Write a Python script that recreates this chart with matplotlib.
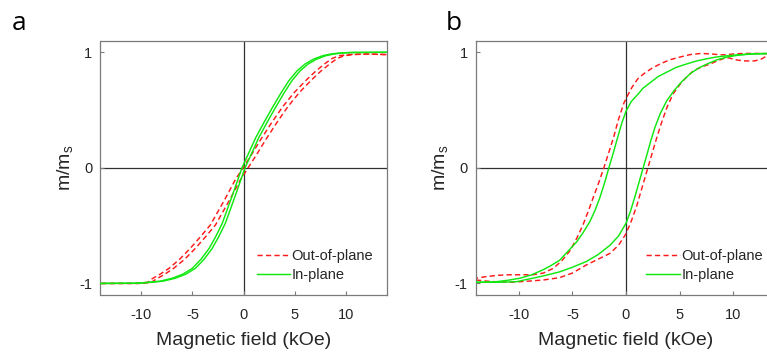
import matplotlib
matplotlib.use("Agg")
import matplotlib.pyplot as plt

plt.rcParams['font.family'] = ['Liberation Sans', 'DejaVu Sans']
plt.rcParams['mathtext.fontset'] = 'custom'
plt.rcParams['mathtext.rm'] = 'Liberation Sans'
plt.rcParams['mathtext.it'] = 'Liberation Sans'
plt.rcParams['axes.unicode_minus'] = False

# ---------------- data (panel a) ----------------
# in-plane (green), ascending branch
a_ip_up_H = [-14, -10.35, -8.95, -7.85, -6.68, -5.65, -4.72, -3.85, -3.09, -2.45, -1.78, -0.8, 0.15,
             1.49, 2.35, 3.12, 3.95, 4.75, 5.55, 6.35, 7.15, 8.05, 8.85, 9.65, 10.65, 14]
a_ip_up_m = [-1, -0.998, -0.99, -0.98, -0.955, -0.92, -0.87, -0.79, -0.70, -0.60, -0.48, -0.24, 0,
             0.26, 0.40, 0.52, 0.645, 0.755, 0.84, 0.90, 0.94, 0.97, 0.985, 0.993, 0.998, 1]
# in-plane (green), descending branch
a_ip_dn_H = [14, 10.35, 9.35, 8.55, 7.75, 6.85, 6.05, 5.25, 4.45, 3.65, 2.82, 2.05, 1.19, -0.15,
             -1.1, -2.08, -2.75, -3.39, -4.15, -5.02, -5.95, -6.98, -8.15, -9.25, -10.65, -14]
a_ip_dn_m = [1, 0.998, 0.993, 0.985, 0.97, 0.94, 0.90, 0.84, 0.755, 0.645, 0.52, 0.40, 0.26, 0,
             -0.24, -0.48, -0.60, -0.70, -0.79, -0.87, -0.92, -0.955, -0.98, -0.99, -0.998, -1]
# out-of-plane (red), ascending branch
a_oop_up_H = [-14, -10, -9.0, -8.6, -7.8, -6.85, -5.75, -4.75, -3.75, -2.75, -1.95, -1.25, -0.35, 0.45,
              1.25, 2.15, 3.25, 4.35, 5.45, 6.65, 7.55, 8.45, 9.15, 9.85, 10.75, 12.25, 14]
a_oop_up_m = [-1, -1, -0.99, -0.965, -0.925, -0.87, -0.79, -0.70, -0.60, -0.495, -0.37, -0.26, -0.11, 0,
              0.11, 0.24, 0.39, 0.53, 0.65, 0.76, 0.835, 0.90, 0.945, 0.97, 0.98, 0.985, 0.98]
# out-of-plane (red), descending branch
a_oop_dn_H = [14, 11.75, 10.25, 9.35, 8.65, 7.95, 7.05, 6.15, 4.95, 3.85, 2.75, 1.65, 0.75, -0.05,
              -0.85, -1.75, -2.45, -3.25, -4.25, -5.25, -6.25, -7.3, -8.25, -9.05, -9.35, -10.5, -14]
a_oop_dn_m = [0.98, 0.985, 0.98, 0.97, 0.945, 0.90, 0.835, 0.76, 0.65, 0.53, 0.39, 0.24, 0.11, 0,
              -0.11, -0.26, -0.37, -0.495, -0.60, -0.70, -0.79, -0.87, -0.925, -0.965, -0.99, -1, -1]

# ---------------- data (panel b) ----------------
b_ip_dn_H = [14, 12, 10.5, 9.5, 8.5, 7.6, 6.6, 5.7, 4.7, 3.85, 3.0, 2.3, 1.6, 1.05, 0.5, 0, -0.4, -0.82,
             -1.2, -1.6, -2.0, -2.45, -2.9, -3.4, -4.0, -4.6, -5.4, -6.2, -7.0, -7.7, -8.8, -9.9, -11,
             -12.1, -14]
b_ip_dn_m = [0.99, 0.985, 0.978, 0.97, 0.96, 0.945, 0.925, 0.90, 0.87, 0.83, 0.79, 0.74, 0.69, 0.63,
             0.575, 0.49, 0.385, 0.25, 0.125, 0, -0.13, -0.26, -0.37, -0.47, -0.56, -0.64, -0.72, -0.80,
             -0.845, -0.88, -0.925, -0.955, -0.972, -0.985, -0.99]
b_ip_up_H = [-14, -12, -10.2, -9.5, -8.7, -7.5, -6.2, -5.0, -3.7, -2.6, -1.5, -0.7, 0, 0.4, 0.8, 1.2,
             1.6, 2.0, 2.3, 2.7, 3.2, 3.8, 4.5, 5.2, 6.0, 6.8, 7.6, 8.5, 9.5, 10.5, 11.5, 13, 14]
b_ip_up_m = [-0.99, -0.99, -0.985, -0.97, -0.955, -0.93, -0.90, -0.86, -0.81, -0.75, -0.67, -0.59,
             -0.48, -0.38, -0.26, -0.13, 0, 0.13, 0.23, 0.35, 0.47, 0.58, 0.67, 0.745, 0.815, 0.865,
             0.90, 0.935, 0.96, 0.975, 0.985, 0.99, 0.99]
b_oop_dn_H = [14, 13, 12, 11, 10, 9.3, 8.8, 8, 7, 6, 5.1, 4.1, 3.2, 2.4, 1.67, 1.1, 0.58, 0.2, -0.2,
              -0.7, -1.14, -1.6, -2.07, -2.55, -3.07, -3.5, -4.0, -4.6, -5.25, -6, -6.8, -7.7, -8.7,
              -10, -10.9, -12, -13, -14]
b_oop_dn_m = [0.985, 0.988, 0.99, 0.99, 0.985, 0.978, 0.978, 0.985, 0.99, 0.98, 0.96, 0.935, 0.90,
              0.86, 0.815, 0.77, 0.70, 0.635, 0.56, 0.42, 0.27, 0.135, 0, -0.13, -0.26, -0.37, -0.49,
              -0.61, -0.72, -0.805, -0.87, -0.91, -0.925, -0.925, -0.925, -0.93, -0.94, -0.955]
b_oop_up_H = [-14, -13, -12.2, -11, -9.9, -8.8, -7.7, -6.2, -5, -3.7, -2.6, -1.5, -0.7, 0, 0.5, 1.0,
              1.5, 2.04, 2.45, 2.9, 3.35, 3.85, 4.4, 5.1, 5.7, 6.3, 7.1, 7.9, 8.5, 9.1, 9.6, 10.2, 11,
              12, 12.6, 13.2, 14]
b_oop_up_m = [-0.97, -0.98, -0.985, -0.99, -0.985, -0.978, -0.97, -0.95, -0.91, -0.84, -0.79, -0.74,
              -0.67, -0.57, -0.46, -0.33, -0.17, 0, 0.13, 0.27, 0.40, 0.53, 0.64, 0.73, 0.79, 0.84,
              0.875, 0.90, 0.925, 0.945, 0.952, 0.935, 0.925, 0.925, 0.94, 0.97, 0.98]

xticks = [-10, -5, 0, 5, 10]
yticks = [-1, 0, 1]
ytick_labels = ['-1', '0', '1']
xlabel = 'Magnetic field (kOe)'
ylabel = r'm/m$_\mathregular{s}$'
legend_labels = ['Out-of-plane', 'In-plane']

RED = '#FF1A1A'
GREEN = '#10E810'
SPINE = '#7a7a7a'
TXT = '#262626'

fig = plt.figure(figsize=(7.67, 3.54), dpi=100)
W, H = 767.0, 354.0

def make_ax(left_px, width_px):
    top_px, bot_px = 40.7, 295.0
    return fig.add_axes([left_px / W, 1 - bot_px / H, width_px / W, (bot_px - top_px) / H])

ax_a = make_ax(100.5, 286.0)
ax_b = make_ax(476.0, 300.0)

panels = [
    (ax_a, (a_oop_up_H, a_oop_up_m), (a_oop_dn_H, a_oop_dn_m), (a_ip_up_H, a_ip_up_m), (a_ip_dn_H, a_ip_dn_m), -0.089),
    (ax_b, (b_oop_up_H, b_oop_up_m), (b_oop_dn_H, b_oop_dn_m), (b_ip_up_H, b_ip_up_m), (b_ip_dn_H, b_ip_dn_m), -0.087),
]

for ax, r1, r2, g1, g2, lx in panels:
    ax.axhline(0, color='#303030', lw=0.9, zorder=1)
    ax.axvline(0, color='#303030', lw=0.9, zorder=1)
    lr, = ax.plot(r1[0], r1[1], color=RED, lw=1.05, dashes=(3.6, 2.2), zorder=2)
    ax.plot(r2[0], r2[1], color=RED, lw=1.05, dashes=(3.6, 2.2), zorder=2)
    lg, = ax.plot(g1[0], g1[1], color=GREEN, lw=1.05, zorder=3)
    ax.plot(g2[0], g2[1], color=GREEN, lw=1.05, zorder=3)
    ax.set_xlim(-14, 14)
    ax.set_ylim(-1.1, 1.1)
    ax.set_xticks(xticks)
    ax.set_yticks(yticks)
    ax.set_yticklabels(ytick_labels)
    ax.tick_params(direction='in', length=3, width=0.8, color=SPINE, labelcolor=TXT,
                   labelsize=10.5)
    ax.tick_params(axis='x', pad=9.6)
    ax.tick_params(axis='y', pad=6)
    for s in ax.spines.values():
        s.set_color(SPINE)
        s.set_linewidth(0.9)
    ax.set_xlabel(xlabel, fontsize=14, color=TXT, labelpad=7)
    ax.set_ylabel(ylabel, fontsize=14, color=TXT)
    ax.yaxis.set_label_coords(lx, 0.5)
    leg = ax.legend([lr, lg], legend_labels, loc='lower right', frameon=False, fontsize=10.5,
                    handlelength=2.3, handletextpad=0.1, labelspacing=0.35,
                    borderaxespad=0.5, bbox_to_anchor=(1.0, 0.0))
    for t in leg.get_texts():
        t.set_color(TXT)

fig.text(12 / W, 1 - 30 / H, 'a', fontsize=19, family='Open Sans', color='black', va='baseline')
fig.text(446 / W, 1 - 30 / H, 'b', fontsize=19, family='Open Sans', color='black', va='baseline')

fig.savefig('out.png', dpi=100)
